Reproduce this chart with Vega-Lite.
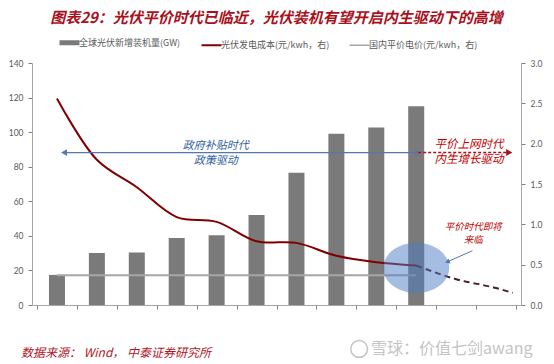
{
  "$schema": "https://vega.github.io/schema/vega-lite/v6.json",
  "width": 489,
  "height": 242,
  "autosize": "none",
  "padding": {"left": 32, "top": 63, "right": 33, "bottom": 59},
  "config": {
    "view": {"stroke": null},
    "font": "Noto Sans CJK SC",
    "axis": {"grid": false, "domainColor": "#a6a6a6", "tickColor": "#7f7f7f", "labelColor": "#595959", "labelFont": "Lato", "labelFontSize": 8.5, "title": null}
  },
  "title": {
    "text": "图表29：光伏平价时代已临近，光伏装机有望开启内生驱动下的高增",
    "color": "#a8101c",
    "font": "Noto Sans CJK SC",
    "fontSize": 15,
    "fontWeight": "bold",
    "fontStyle": "italic",
    "anchor": "middle",
    "frame": "group",
    "orient": "top",
    "offset": 12
  },
  "resolve": {"scale": {"y": "independent"}},
  "layer": [
    {
      "data": {"values": [
        {"year": 2010, "gw": 17.4, "series": "全球光伏新增装机量(GW)"},
        {"year": 2011, "gw": 30.1, "series": "全球光伏新增装机量(GW)"},
        {"year": 2012, "gw": 30.4, "series": "全球光伏新增装机量(GW)"},
        {"year": 2013, "gw": 38.7, "series": "全球光伏新增装机量(GW)"},
        {"year": 2014, "gw": 40.3, "series": "全球光伏新增装机量(GW)"},
        {"year": 2015, "gw": 52, "series": "全球光伏新增装机量(GW)"},
        {"year": 2016, "gw": 76.5, "series": "全球光伏新增装机量(GW)"},
        {"year": 2017, "gw": 99, "series": "全球光伏新增装机量(GW)"},
        {"year": 2018, "gw": 102.7, "series": "全球光伏新增装机量(GW)"},
        {"year": 2019, "gw": 115, "series": "全球光伏新增装机量(GW)"}
      ]},
      "mark": {"type": "bar", "width": 16},
      "encoding": {
        "x": {
          "field": "year", "type": "quantitative",
          "scale": {"domain": [2009.5, 2021.5], "nice": false, "zero": false},
          "axis": {
            "values": [2009.5, 2010, 2010.5, 2011, 2011.5, 2012, 2012.5, 2013, 2013.5, 2014, 2014.5, 2015, 2015.5, 2016, 2016.5, 2017, 2017.5, 2018, 2018.5, 2019, 2019.5, 2020, 2020.5, 2021, 2021.5],
            "labelExpr": "datum.value % 1 === 0 ? '' + datum.value : ''",
            "labelOverlap": false,
            "labelFlush": false,
            "labelBound": false,
            "tickSize": 4,
            "tickColor": {"condition": {"test": "datum.value % 1 === 0", "value": "transparent"}, "value": "#7f7f7f"},
            "labelPadding": 5
          }
        },
        "y": {
          "field": "gw", "type": "quantitative",
          "scale": {"domain": [0, 140], "nice": false},
          "axis": {"orient": "left", "values": [0, 20, 40, 60, 80, 100, 120, 140], "tickSize": 4, "labelPadding": 5}
        },
        "color": {
          "field": "series", "type": "nominal",
          "scale": {"domain": ["全球光伏新增装机量(GW)", "光伏发电成本(元/kwh，右)", "国内平价电价(元/kwh，右)"], "range": ["#7a7a7a", "#800000", "#a6a6a6"]},
          "legend": {
            "orient": "none", "direction": "horizontal", "legendX": 33, "legendY": -25,
            "title": null, "symbolType": "stroke", "symbolSize": 400, "symbolStrokeWidth": 2,
            "labelFontSize": 9, "labelColor": "#595959", "labelFont": "Noto Sans CJK SC",
            "columnPadding": 16, "symbolOffset": 0, "labelOffset": 5,
            "encode": {"symbols": {"update": {
              "stroke": {"scale": "color", "field": "value"},
              "strokeWidth": {"signal": "datum.value === '全球光伏新增装机量(GW)' ? 5 : (datum.value === '光伏发电成本(元/kwh，右)' ? 2 : 1.5)"}
            }}}
          }
        }
      }
    },
    {
      "layer": [
        {
          "data": {"values": [
            {"year": 2010, "price": 0.37, "series": "国内平价电价(元/kwh，右)"},
            {"year": 2019, "price": 0.37, "series": "国内平价电价(元/kwh，右)"}
          ]},
          "mark": {"type": "line", "strokeWidth": 2},
          "encoding": {
            "x": {"field": "year", "type": "quantitative"},
            "y": {"field": "price", "type": "quantitative", "scale": {"domain": [0, 3], "nice": false},
                  "axis": {"orient": "right", "values": [0, 0.5, 1, 1.5, 2, 2.5, 3], "format": ".1f", "tickSize": 4, "labelPadding": 5}},
            "color": {"field": "series", "type": "nominal"}
          }
        },
        {
          "data": {"values": [
            {"year": 2010, "cost": 2.56, "series": "光伏发电成本(元/kwh，右)"},
            {"year": 2011, "cost": 1.8, "series": "光伏发电成本(元/kwh，右)"},
            {"year": 2012, "cost": 1.46, "series": "光伏发电成本(元/kwh，右)"},
            {"year": 2013, "cost": 1.09, "series": "光伏发电成本(元/kwh，右)"},
            {"year": 2014, "cost": 1.03, "series": "光伏发电成本(元/kwh，右)"},
            {"year": 2015, "cost": 0.79, "series": "光伏发电成本(元/kwh，右)"},
            {"year": 2016, "cost": 0.77, "series": "光伏发电成本(元/kwh，右)"},
            {"year": 2017, "cost": 0.61, "series": "光伏发电成本(元/kwh，右)"},
            {"year": 2018, "cost": 0.53, "series": "光伏发电成本(元/kwh，右)"},
            {"year": 2019, "cost": 0.49, "series": "光伏发电成本(元/kwh，右)"}
          ]},
          "mark": {"type": "line", "strokeWidth": 2, "interpolate": "catmull-rom"},
          "encoding": {
            "x": {"field": "year", "type": "quantitative"},
            "y": {"field": "cost", "type": "quantitative"},
            "color": {"field": "series", "type": "nominal"}
          }
        },
        {
          "data": {"values": [
            {"year": 2019, "cost": 0.49},
            {"year": 2020, "cost": 0.32},
            {"year": 2021, "cost": 0.21},
            {"year": 2021.42, "cost": 0.15}
          ]},
          "mark": {"type": "line", "strokeWidth": 2, "strokeDash": [6, 4], "color": "#4a1c2c", "interpolate": "monotone"},
          "encoding": {
            "x": {"field": "year", "type": "quantitative"},
            "y": {"field": "cost", "type": "quantitative"}
          }
        },
        {
          "data": {"values": [
            {"year": 2019.0, "v": 0.46}
          ]},
          "mark": {"type": "point", "shape": "M-1,0 A1,0.76 0 1,0 1,0 A1,0.76 0 1,0 -1,0 Z", "size": 4356, "filled": true, "color": "#4a7cc4", "opacity": 0.5, "strokeWidth": 0},
          "encoding": {
            "x": {"field": "year", "type": "quantitative"},
            "y": {"field": "v", "type": "quantitative"}
          }
        },
        {
          "data": {"values": [
            {"year": 2010.12, "v": 1.89},
            {"year": 2019, "v": 1.89}
          ]},
          "mark": {"type": "line", "strokeWidth": 1.2, "color": "#5578a8"},
          "encoding": {
            "x": {"field": "year", "type": "quantitative"},
            "y": {"field": "v", "type": "quantitative"}
          }
        },
        {
          "data": {"values": [
            {"year": 2010.18, "v": 1.89}
          ]},
          "mark": {"type": "point", "shape": "triangle-left", "size": 45, "filled": true, "color": "#5578a8", "opacity": 1},
          "encoding": {
            "x": {"field": "year", "type": "quantitative"},
            "y": {"field": "v", "type": "quantitative"}
          }
        },
        {
          "data": {"values": [
            {"year": 2019, "v": 1.89}
          ]},
          "mark": {"type": "point", "shape": "circle", "size": 18, "filled": true, "color": "#5578a8", "opacity": 1},
          "encoding": {
            "x": {"field": "year", "type": "quantitative"},
            "y": {"field": "v", "type": "quantitative"}
          }
        },
        {
          "data": {"values": [
            {"year": 2019.05, "v": 1.89},
            {"year": 2021.3, "v": 1.89}
          ]},
          "mark": {"type": "line", "strokeWidth": 1.5, "strokeDash": [3, 2], "color": "#a8101c"},
          "encoding": {
            "x": {"field": "year", "type": "quantitative"},
            "y": {"field": "v", "type": "quantitative"}
          }
        },
        {
          "data": {"values": [
            {"year": 2021.33, "v": 1.89}
          ]},
          "mark": {"type": "point", "shape": "triangle-right", "size": 50, "filled": true, "color": "#a8101c", "opacity": 1},
          "encoding": {
            "x": {"field": "year", "type": "quantitative"},
            "y": {"field": "v", "type": "quantitative"}
          }
        },
        {
          "data": {"values": [
            {"year": 2020.41, "v": 0.673},
            {"year": 2019.8, "v": 0.54}
          ]},
          "mark": {"type": "line", "strokeWidth": 1, "color": "#5578a8"},
          "encoding": {
            "x": {"field": "year", "type": "quantitative"},
            "y": {"field": "v", "type": "quantitative"}
          }
        },
        {
          "data": {"values": [
            {"year": 2019.78, "v": 0.535}
          ]},
          "mark": {"type": "point", "shape": "triangle-left", "angle": -24, "size": 30, "filled": true, "color": "#5578a8", "opacity": 1},
          "encoding": {
            "x": {"field": "year", "type": "quantitative"},
            "y": {"field": "v", "type": "quantitative"}
          }
        },
        {
          "data": {"values": [
            {"year": 2013.98, "v": 1.97, "t": "政府补贴时代"},
            {"year": 2013.98, "v": 1.785, "t": "政策驱动"}
          ]},
          "mark": {"type": "text", "color": "#2e5e9e", "fontSize": 11, "fontStyle": "italic", "font": "Noto Sans CJK SC", "align": "center", "baseline": "middle"},
          "encoding": {
            "x": {"field": "year", "type": "quantitative"},
            "y": {"field": "v", "type": "quantitative"},
            "text": {"field": "t"}
          }
        },
        {
          "data": {"values": [
            {"year": 2020.32, "v": 1.985, "t": "平价上网时代"},
            {"year": 2020.32, "v": 1.8, "t": "内生增长驱动"}
          ]},
          "mark": {"type": "text", "color": "#c00000", "fontSize": 11.5, "fontStyle": "italic", "font": "Noto Sans CJK SC", "align": "center", "baseline": "middle"},
          "encoding": {
            "x": {"field": "year", "type": "quantitative"},
            "y": {"field": "v", "type": "quantitative"},
            "text": {"field": "t"}
          }
        },
        {
          "data": {"values": [
            {"year": 2020.43, "v": 0.965, "t": "平价时代即将"},
            {"year": 2020.43, "v": 0.81, "t": "来临"}
          ]},
          "mark": {"type": "text", "color": "#c00000", "fontSize": 9.5, "fontStyle": "italic", "font": "Noto Sans CJK SC", "align": "center", "baseline": "middle"},
          "encoding": {
            "x": {"field": "year", "type": "quantitative"},
            "y": {"field": "v", "type": "quantitative"},
            "text": {"field": "t"}
          }
        },
        {
          "data": {"values": [
            {"year": 2009.1, "v": -0.595, "t": "数据来源： Wind， 中泰证券研究所"}
          ]},
          "mark": {"type": "text", "color": "#b0141e", "fontSize": 12, "fontStyle": "italic", "font": "Noto Sans CJK SC", "align": "left", "baseline": "middle"},
          "encoding": {
            "x": {"field": "year", "type": "quantitative"},
            "y": {"field": "v", "type": "quantitative"},
            "text": {"field": "t"}
          }
        },
        {
          "data": {"values": [
            {"year": 2017.57, "v": -0.545}
          ]},
          "mark": {"type": "point", "shape": "circle", "size": 280, "filled": false, "color": "#c4c4c4", "strokeWidth": 1.5, "opacity": 1},
          "encoding": {
            "x": {"field": "year", "type": "quantitative"},
            "y": {"field": "v", "type": "quantitative"}
          }
        },
        {
          "data": {"values": [
            {"year": 2017.87, "v": -0.545, "t": "雪球：价值七剑awang"}
          ]},
          "mark": {"type": "text", "color": "#c4c4c4", "fontSize": 16, "font": "Noto Sans CJK SC", "align": "left", "baseline": "middle"},
          "encoding": {
            "x": {"field": "year", "type": "quantitative"},
            "y": {"field": "v", "type": "quantitative"},
            "text": {"field": "t"}
          }
        }
      ]
    }
  ]
}
